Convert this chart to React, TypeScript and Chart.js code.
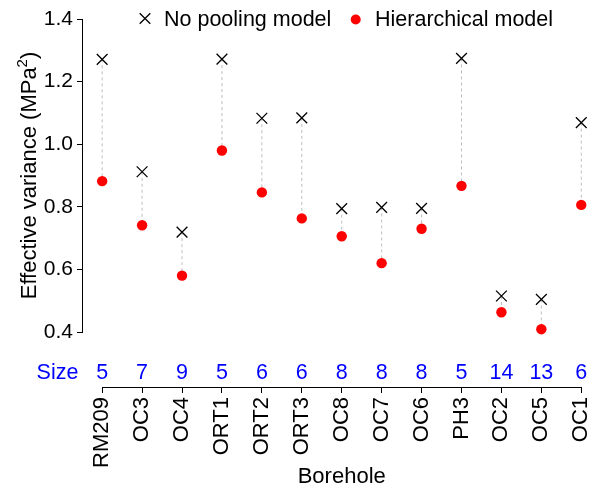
import React, { useEffect, useRef } from 'react';
import { Chart, registerables } from 'chart.js';

Chart.register(...registerables);

// Boreholes in plotting order, with the number of tests at each
const boreholes = ['RM209', 'OC3', 'OC4', 'ORT1', 'ORT2', 'ORT3', 'OC8', 'OC7', 'OC6', 'PH3', 'OC2', 'OC5', 'OC1'];
const sampleSizes = [5, 7, 9, 5, 6, 6, 8, 8, 8, 5, 14, 13, 6];

// Effective variance (MPa^2) per borehole
const noPooling = [1.271, 0.912, 0.719, 1.272, 1.083, 1.084, 0.794, 0.798, 0.795, 1.274, 0.515, 0.504, 1.069];
const hierarchical = [0.882, 0.741, 0.580, 0.980, 0.846, 0.763, 0.706, 0.620, 0.730, 0.867, 0.463, 0.409, 0.806];

const yTicks = [0.4, 0.6, 0.8, 1.0, 1.2, 1.4];

const FONT = '"Liberation Sans", Arial, Helvetica, sans-serif';
const BLUE = '#0000FF';

const annotations = {
  id: 'boreholeAnnotations',
  afterDraw(chart: any) {
    const { ctx, chartArea } = chart;
    const xs = chart.scales.x;
    const ys = chart.scales.y;
    ctx.save();

    // y axis line spanning the tick range
    ctx.strokeStyle = '#000';
    ctx.lineWidth = 1;
    ctx.beginPath();
    const ax = chartArea.left - 0.5;
    ctx.moveTo(ax, ys.getPixelForValue(yTicks[yTicks.length - 1]));
    ctx.lineTo(ax, ys.getPixelForValue(yTicks[0]));
    ctx.stroke();

    // x axis line from first to last borehole
    const ay = chartArea.bottom + 0.5;
    ctx.beginPath();
    ctx.moveTo(xs.getPixelForValue(0), ay);
    ctx.lineTo(xs.getPixelForValue(boreholes.length - 1), ay);
    ctx.stroke();

    // sample size row
    ctx.fillStyle = BLUE;
    ctx.font = `21.5px ${FONT}`;
    ctx.textBaseline = 'alphabetic';
    ctx.textAlign = 'center';
    const sizeY = chartArea.bottom - 8;
    ctx.fillText('Size', 57.5, sizeY);
    sampleSizes.forEach((n, i) => {
      ctx.fillText(String(n), xs.getPixelForValue(i), sizeY);
    });

    // x axis title
    ctx.fillStyle = '#000';
    ctx.font = `22px ${FONT}`;
    ctx.fillText('Borehole', (xs.getPixelForValue(0) + xs.getPixelForValue(boreholes.length - 1)) / 2, 483);

    // y axis title with superscript
    const midY = (ys.getPixelForValue(yTicks[0]) + ys.getPixelForValue(yTicks[yTicks.length - 1])) / 2;
    ctx.save();
    ctx.translate(36, midY);
    ctx.rotate(-Math.PI / 2);
    ctx.textAlign = 'left';
    const main = 'Effective variance (MPa';
    const sup = '2';
    const close = ')';
    ctx.font = `22px ${FONT}`;
    const w1 = ctx.measureText(main).width;
    const w3 = ctx.measureText(close).width;
    ctx.font = `15px ${FONT}`;
    const w2 = ctx.measureText(sup).width;
    let px = -(w1 + w2 + w3) / 2;
    ctx.font = `22px ${FONT}`;
    ctx.fillText(main, px, 0);
    px += w1;
    ctx.font = `15px ${FONT}`;
    ctx.fillText(sup, px, -9);
    px += w2;
    ctx.font = `22px ${FONT}`;
    ctx.fillText(close, px, 0);
    ctx.restore();

    // legend
    ctx.strokeStyle = '#000';
    ctx.lineWidth = 1.3;
    const lx = 145, ly = 18.5, h = 5.3;
    ctx.beginPath();
    ctx.moveTo(lx - h, ly - h);
    ctx.lineTo(lx + h, ly + h);
    ctx.moveTo(lx + h, ly - h);
    ctx.lineTo(lx - h, ly + h);
    ctx.stroke();
    ctx.fillStyle = '#FF0000';
    ctx.beginPath();
    ctx.arc(355.7, 19.5, 5, 0, Math.PI * 2);
    ctx.fill();
    ctx.fillStyle = '#000';
    ctx.font = `21.5px ${FONT}`;
    ctx.textAlign = 'left';
    ctx.fillText('No pooling model', 164, 26);
    ctx.fillText('Hierarchical model', 375, 26);

    ctx.restore();
  },
};

export default function App() {
  const canvasRef = useRef<HTMLCanvasElement | null>(null);

  useEffect(() => {
    const canvas = canvasRef.current;
    if (!canvas) return;

    // dotted connectors: one segment per borehole, separated by gaps
    const connectors: any[] = [];
    boreholes.forEach((_, i) => {
      connectors.push({ x: i, y: noPooling[i] });
      connectors.push({ x: i, y: hierarchical[i] });
      connectors.push({ x: i, y: null });
    });

    const chart = new Chart(canvas, {
      type: 'scatter',
      data: {
        datasets: [
          {
            label: 'No pooling model',
            data: noPooling.map((v, i) => ({ x: i, y: v })),
            pointStyle: 'crossRot',
            pointRadius: 7.6,
            borderColor: '#000',
            backgroundColor: '#000',
            borderWidth: 1.3,
            order: 1,
          },
          {
            label: 'Hierarchical model',
            data: hierarchical.map((v, i) => ({ x: i, y: v })),
            pointStyle: 'circle',
            pointRadius: 5.2,
            borderWidth: 0,
            backgroundColor: '#FF0000',
            borderColor: '#FF0000',
            order: 2,
          },
          {
            label: 'connector',
            data: connectors,
            showLine: true,
            spanGaps: false,
            pointRadius: 0,
            borderColor: '#BEBEBE',
            borderWidth: 1,
            borderDash: [3, 3],
            order: 3,
          },
        ],
      },
      options: {
        animation: false,
        responsive: true,
        maintainAspectRatio: false,
        events: [],
        layout: { padding: { top: 19, left: 0, right: 3, bottom: 0 } },
        plugins: {
          legend: { display: false },
          tooltip: { enabled: false },
        },
        scales: {
          x: {
            type: 'linear',
            min: -0.48,
            max: boreholes.length - 1 + 0.48,
            afterBuildTicks: (s: any) => {
              s.ticks = boreholes.map((_, i) => ({ value: i }));
            },
            afterFit: (s: any) => {
              s.height = 100;
            },
            border: { display: false },
            grid: { drawOnChartArea: false, drawTicks: true, tickLength: 6, color: '#000', lineWidth: 1 },
            ticks: {
              autoSkip: false,
              minRotation: 90,
              maxRotation: 90,
              padding: 4,
              color: '#000',
              font: { family: FONT, size: 22 },
              callback: (v: any) => boreholes[Math.round(Number(v))] ?? '',
            },
          },
          y: {
            type: 'linear',
            min: 0.2243,
            max: 1.4,
            afterBuildTicks: (s: any) => {
              s.ticks = yTicks.map((v) => ({ value: v }));
            },
            afterFit: (s: any) => {
              s.width = 83;
            },
            border: { display: false },
            grid: { drawOnChartArea: false, drawTicks: true, tickLength: 6, color: '#000', lineWidth: 1 },
            ticks: {
              autoSkip: false,
              padding: 4,
              color: '#000',
              font: { family: FONT, size: 21 },
              callback: (v: any) => Number(v).toFixed(1),
            },
          },
        },
      },
      plugins: [annotations],
    });

    return () => chart.destroy();
  }, []);

  return (
    <div style={{ position: 'absolute', left: 0, top: 0, width: 612, height: 487, background: '#fff' }}>
      <canvas ref={canvasRef} />
    </div>
  );
}
